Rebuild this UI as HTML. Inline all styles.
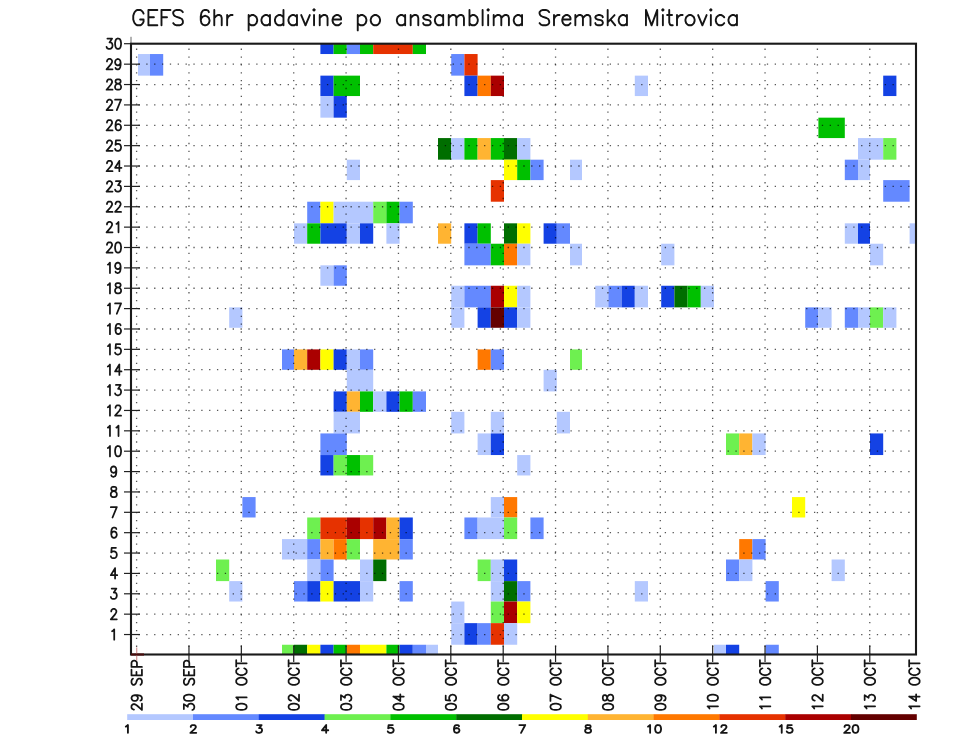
<!DOCTYPE html>
<html><head><meta charset="utf-8"><title>GEFS 6hr padavine po ansamblima Sremska Mitrovica</title>
<style>
html,body{margin:0;padding:0;background:#fff;width:960px;height:742px;overflow:hidden;font-family:"Liberation Sans",sans-serif;}
svg{display:block;will-change:transform;}
#w{width:960px;height:742px;}
</style></head><body><div id="w">
<svg width="960" height="742" viewBox="0 0 960 742"><rect x="0" y="0" width="960" height="742" fill="#fff"/><rect x="320.4" y="43.7" width="13.2" height="10.33" fill="#1442e4"/><rect x="333.6" y="43.7" width="13.2" height="10.33" fill="#00c000"/><rect x="346.8" y="43.7" width="13.2" height="10.33" fill="#6489ff"/><rect x="360" y="43.7" width="13.2" height="10.33" fill="#00c000"/><rect x="373.2" y="43.7" width="39.6" height="10.33" fill="#e63200"/><rect x="412.8" y="43.7" width="13.2" height="10.33" fill="#00c000"/><rect x="138" y="54.03" width="12" height="21.61" fill="#b4c8ff"/><rect x="150" y="54.03" width="13.2" height="21.61" fill="#6489ff"/><rect x="451.2" y="54.03" width="13.2" height="21.61" fill="#6489ff"/><rect x="464.4" y="54.03" width="13.2" height="21.61" fill="#e63200"/><rect x="320.4" y="75.64" width="13.2" height="20.41" fill="#1442e4"/><rect x="333.6" y="75.64" width="26.4" height="20.41" fill="#00c000"/><rect x="464.4" y="75.64" width="13.2" height="20.41" fill="#1442e4"/><rect x="477.6" y="75.64" width="13.2" height="20.41" fill="#ff7800"/><rect x="490.8" y="75.64" width="13.2" height="20.41" fill="#aa0000"/><rect x="634.8" y="75.64" width="13.2" height="20.41" fill="#b4c8ff"/><rect x="883.2" y="75.64" width="13.2" height="20.41" fill="#1442e4"/><rect x="320.4" y="96.05" width="13.2" height="21.61" fill="#b4c8ff"/><rect x="333.6" y="96.05" width="13.2" height="21.61" fill="#1442e4"/><rect x="818.4" y="117.66" width="26.4" height="20.41" fill="#00c000"/><rect x="438" y="138.07" width="13.2" height="21.61" fill="#006e00"/><rect x="451.2" y="138.07" width="13.2" height="21.61" fill="#b4c8ff"/><rect x="464.4" y="138.07" width="13.2" height="21.61" fill="#00c000"/><rect x="477.6" y="138.07" width="13.2" height="21.61" fill="#ffb432"/><rect x="490.8" y="138.07" width="13.2" height="21.61" fill="#00c000"/><rect x="504" y="138.07" width="13.2" height="21.61" fill="#006e00"/><rect x="517.2" y="138.07" width="13.2" height="21.61" fill="#b4c8ff"/><rect x="858" y="138.07" width="25.2" height="21.61" fill="#b4c8ff"/><rect x="883.2" y="138.07" width="13.2" height="21.61" fill="#6ef050"/><rect x="346.8" y="159.69" width="13.2" height="20.41" fill="#b4c8ff"/><rect x="504" y="159.69" width="13.2" height="20.41" fill="#ffff00"/><rect x="517.2" y="159.69" width="13.2" height="20.41" fill="#00c000"/><rect x="530.4" y="159.69" width="13.2" height="20.41" fill="#6489ff"/><rect x="570" y="159.69" width="12" height="20.41" fill="#b4c8ff"/><rect x="844.8" y="159.69" width="13.2" height="20.41" fill="#6489ff"/><rect x="858" y="159.69" width="12" height="20.41" fill="#b4c8ff"/><rect x="490.8" y="180.1" width="13.2" height="21.61" fill="#e63200"/><rect x="883.2" y="180.1" width="26.4" height="21.61" fill="#6489ff"/><rect x="307.2" y="201.71" width="13.2" height="21.61" fill="#6489ff"/><rect x="320.4" y="201.71" width="13.2" height="21.61" fill="#ffff00"/><rect x="333.6" y="201.71" width="39.6" height="21.61" fill="#b4c8ff"/><rect x="373.2" y="201.71" width="13.2" height="21.61" fill="#6ef050"/><rect x="386.4" y="201.71" width="13.2" height="21.61" fill="#00c000"/><rect x="399.6" y="201.71" width="13.2" height="21.61" fill="#6489ff"/><rect x="294" y="223.32" width="13.2" height="20.41" fill="#b4c8ff"/><rect x="307.2" y="223.32" width="13.2" height="20.41" fill="#00c000"/><rect x="320.4" y="223.32" width="26.4" height="20.41" fill="#1442e4"/><rect x="346.8" y="223.32" width="13.2" height="20.41" fill="#b4c8ff"/><rect x="360" y="223.32" width="13.2" height="20.41" fill="#1442e4"/><rect x="386.4" y="223.32" width="13.2" height="20.41" fill="#b4c8ff"/><rect x="438" y="223.32" width="13.2" height="20.41" fill="#ffb432"/><rect x="464.4" y="223.32" width="13.2" height="20.41" fill="#1442e4"/><rect x="477.6" y="223.32" width="13.2" height="20.41" fill="#00c000"/><rect x="504" y="223.32" width="13.2" height="20.41" fill="#006e00"/><rect x="517.2" y="223.32" width="13.2" height="20.41" fill="#ffff00"/><rect x="543.6" y="223.32" width="13.2" height="20.41" fill="#1442e4"/><rect x="556.8" y="223.32" width="13.2" height="20.41" fill="#6489ff"/><rect x="844.8" y="223.32" width="13.2" height="20.41" fill="#b4c8ff"/><rect x="858" y="223.32" width="12" height="20.41" fill="#1442e4"/><rect x="909.6" y="223.32" width="6.4" height="20.41" fill="#b4c8ff"/><rect x="464.4" y="243.73" width="26.4" height="21.61" fill="#6489ff"/><rect x="490.8" y="243.73" width="13.2" height="21.61" fill="#00c000"/><rect x="504" y="243.73" width="13.2" height="21.61" fill="#ff7800"/><rect x="517.2" y="243.73" width="13.2" height="21.61" fill="#b4c8ff"/><rect x="570" y="243.73" width="12" height="21.61" fill="#b4c8ff"/><rect x="661.2" y="243.73" width="13.2" height="21.61" fill="#b4c8ff"/><rect x="870" y="243.73" width="13.2" height="21.61" fill="#b4c8ff"/><rect x="320.4" y="265.34" width="13.2" height="20.41" fill="#b4c8ff"/><rect x="333.6" y="265.34" width="13.2" height="20.41" fill="#6489ff"/><rect x="451.2" y="285.75" width="13.2" height="21.61" fill="#b4c8ff"/><rect x="464.4" y="285.75" width="26.4" height="21.61" fill="#6489ff"/><rect x="490.8" y="285.75" width="13.2" height="21.61" fill="#aa0000"/><rect x="504" y="285.75" width="13.2" height="21.61" fill="#ffff00"/><rect x="517.2" y="285.75" width="13.2" height="21.61" fill="#b4c8ff"/><rect x="595.2" y="285.75" width="13.2" height="21.61" fill="#b4c8ff"/><rect x="608.4" y="285.75" width="13.2" height="21.61" fill="#6489ff"/><rect x="621.6" y="285.75" width="13.2" height="21.61" fill="#1442e4"/><rect x="634.8" y="285.75" width="13.2" height="21.61" fill="#b4c8ff"/><rect x="661.2" y="285.75" width="13.2" height="21.61" fill="#1442e4"/><rect x="674.4" y="285.75" width="13.2" height="21.61" fill="#006e00"/><rect x="687.6" y="285.75" width="13.2" height="21.61" fill="#00c000"/><rect x="700.8" y="285.75" width="13.2" height="21.61" fill="#b4c8ff"/><rect x="229.2" y="307.37" width="13.2" height="20.41" fill="#b4c8ff"/><rect x="451.2" y="307.37" width="13.2" height="20.41" fill="#b4c8ff"/><rect x="477.6" y="307.37" width="13.2" height="20.41" fill="#1442e4"/><rect x="490.8" y="307.37" width="13.2" height="20.41" fill="#640000"/><rect x="504" y="307.37" width="13.2" height="20.41" fill="#1442e4"/><rect x="517.2" y="307.37" width="13.2" height="20.41" fill="#b4c8ff"/><rect x="805.2" y="307.37" width="13.2" height="20.41" fill="#6489ff"/><rect x="818.4" y="307.37" width="13.2" height="20.41" fill="#b4c8ff"/><rect x="844.8" y="307.37" width="13.2" height="20.41" fill="#6489ff"/><rect x="858" y="307.37" width="12" height="20.41" fill="#b4c8ff"/><rect x="870" y="307.37" width="13.2" height="20.41" fill="#6ef050"/><rect x="883.2" y="307.37" width="13.2" height="20.41" fill="#b4c8ff"/><rect x="282" y="349.39" width="12" height="20.41" fill="#6489ff"/><rect x="294" y="349.39" width="13.2" height="20.41" fill="#ffb432"/><rect x="307.2" y="349.39" width="13.2" height="20.41" fill="#aa0000"/><rect x="320.4" y="349.39" width="13.2" height="20.41" fill="#ffff00"/><rect x="333.6" y="349.39" width="13.2" height="20.41" fill="#1442e4"/><rect x="346.8" y="349.39" width="13.2" height="20.41" fill="#b4c8ff"/><rect x="360" y="349.39" width="13.2" height="20.41" fill="#6489ff"/><rect x="477.6" y="349.39" width="13.2" height="20.41" fill="#ff7800"/><rect x="490.8" y="349.39" width="13.2" height="20.41" fill="#6489ff"/><rect x="570" y="349.39" width="12" height="20.41" fill="#6ef050"/><rect x="346.8" y="369.8" width="26.4" height="21.61" fill="#b4c8ff"/><rect x="543.6" y="369.8" width="13.2" height="21.61" fill="#b4c8ff"/><rect x="333.6" y="391.41" width="13.2" height="20.41" fill="#1442e4"/><rect x="346.8" y="391.41" width="13.2" height="20.41" fill="#ffb432"/><rect x="360" y="391.41" width="13.2" height="20.41" fill="#00c000"/><rect x="373.2" y="391.41" width="13.2" height="20.41" fill="#b4c8ff"/><rect x="386.4" y="391.41" width="13.2" height="20.41" fill="#1442e4"/><rect x="399.6" y="391.41" width="13.2" height="20.41" fill="#00c000"/><rect x="412.8" y="391.41" width="13.2" height="20.41" fill="#6489ff"/><rect x="333.6" y="411.82" width="26.4" height="21.61" fill="#b4c8ff"/><rect x="451.2" y="411.82" width="13.2" height="21.61" fill="#b4c8ff"/><rect x="490.8" y="411.82" width="13.2" height="21.61" fill="#b4c8ff"/><rect x="556.8" y="411.82" width="13.2" height="21.61" fill="#b4c8ff"/><rect x="320.4" y="433.43" width="26.4" height="21.61" fill="#6489ff"/><rect x="477.6" y="433.43" width="13.2" height="21.61" fill="#b4c8ff"/><rect x="490.8" y="433.43" width="13.2" height="21.61" fill="#1442e4"/><rect x="726" y="433.43" width="13.2" height="21.61" fill="#6ef050"/><rect x="739.2" y="433.43" width="13.2" height="21.61" fill="#ffb432"/><rect x="752.4" y="433.43" width="13.2" height="21.61" fill="#b4c8ff"/><rect x="870" y="433.43" width="13.2" height="21.61" fill="#1442e4"/><rect x="320.4" y="455.05" width="13.2" height="20.41" fill="#1442e4"/><rect x="333.6" y="455.05" width="13.2" height="20.41" fill="#6ef050"/><rect x="346.8" y="455.05" width="13.2" height="20.41" fill="#00c000"/><rect x="360" y="455.05" width="13.2" height="20.41" fill="#6ef050"/><rect x="517.2" y="455.05" width="13.2" height="20.41" fill="#b4c8ff"/><rect x="242.4" y="497.07" width="13.2" height="20.41" fill="#6489ff"/><rect x="490.8" y="497.07" width="13.2" height="20.41" fill="#b4c8ff"/><rect x="504" y="497.07" width="13.2" height="20.41" fill="#ff7800"/><rect x="792" y="497.07" width="13.2" height="20.41" fill="#ffff00"/><rect x="307.2" y="517.48" width="13.2" height="21.61" fill="#6ef050"/><rect x="320.4" y="517.48" width="26.4" height="21.61" fill="#e63200"/><rect x="346.8" y="517.48" width="13.2" height="21.61" fill="#aa0000"/><rect x="360" y="517.48" width="13.2" height="21.61" fill="#e63200"/><rect x="373.2" y="517.48" width="13.2" height="21.61" fill="#aa0000"/><rect x="386.4" y="517.48" width="13.2" height="21.61" fill="#ffb432"/><rect x="399.6" y="517.48" width="13.2" height="21.61" fill="#1442e4"/><rect x="464.4" y="517.48" width="13.2" height="21.61" fill="#6489ff"/><rect x="477.6" y="517.48" width="26.4" height="21.61" fill="#b4c8ff"/><rect x="504" y="517.48" width="13.2" height="21.61" fill="#6ef050"/><rect x="530.4" y="517.48" width="13.2" height="21.61" fill="#6489ff"/><rect x="282" y="539.09" width="25.2" height="20.41" fill="#b4c8ff"/><rect x="307.2" y="539.09" width="13.2" height="20.41" fill="#6489ff"/><rect x="320.4" y="539.09" width="13.2" height="20.41" fill="#ffb432"/><rect x="333.6" y="539.09" width="13.2" height="20.41" fill="#ff7800"/><rect x="346.8" y="539.09" width="13.2" height="20.41" fill="#6ef050"/><rect x="373.2" y="539.09" width="26.4" height="20.41" fill="#ffb432"/><rect x="399.6" y="539.09" width="13.2" height="20.41" fill="#6489ff"/><rect x="739.2" y="539.09" width="13.2" height="20.41" fill="#ff7800"/><rect x="752.4" y="539.09" width="13.2" height="20.41" fill="#6489ff"/><rect x="216" y="559.5" width="13.2" height="21.61" fill="#6ef050"/><rect x="307.2" y="559.5" width="13.2" height="21.61" fill="#b4c8ff"/><rect x="320.4" y="559.5" width="13.2" height="21.61" fill="#6489ff"/><rect x="360" y="559.5" width="13.2" height="21.61" fill="#b4c8ff"/><rect x="373.2" y="559.5" width="13.2" height="21.61" fill="#006e00"/><rect x="477.6" y="559.5" width="13.2" height="21.61" fill="#6ef050"/><rect x="490.8" y="559.5" width="13.2" height="21.61" fill="#b4c8ff"/><rect x="504" y="559.5" width="13.2" height="21.61" fill="#1442e4"/><rect x="726" y="559.5" width="13.2" height="21.61" fill="#6489ff"/><rect x="739.2" y="559.5" width="13.2" height="21.61" fill="#b4c8ff"/><rect x="831.6" y="559.5" width="13.2" height="21.61" fill="#b4c8ff"/><rect x="229.2" y="581.11" width="13.2" height="20.41" fill="#b4c8ff"/><rect x="294" y="581.11" width="13.2" height="20.41" fill="#6489ff"/><rect x="307.2" y="581.11" width="13.2" height="20.41" fill="#1442e4"/><rect x="320.4" y="581.11" width="13.2" height="20.41" fill="#ffff00"/><rect x="333.6" y="581.11" width="26.4" height="20.41" fill="#1442e4"/><rect x="360" y="581.11" width="13.2" height="20.41" fill="#b4c8ff"/><rect x="399.6" y="581.11" width="13.2" height="20.41" fill="#6489ff"/><rect x="490.8" y="581.11" width="13.2" height="20.41" fill="#b4c8ff"/><rect x="504" y="581.11" width="13.2" height="20.41" fill="#006e00"/><rect x="517.2" y="581.11" width="13.2" height="20.41" fill="#6489ff"/><rect x="634.8" y="581.11" width="13.2" height="20.41" fill="#b4c8ff"/><rect x="765.6" y="581.11" width="13.2" height="20.41" fill="#6489ff"/><rect x="451.2" y="601.53" width="13.2" height="21.61" fill="#b4c8ff"/><rect x="490.8" y="601.53" width="13.2" height="21.61" fill="#6ef050"/><rect x="504" y="601.53" width="13.2" height="21.61" fill="#aa0000"/><rect x="517.2" y="601.53" width="13.2" height="21.61" fill="#ffff00"/><rect x="451.2" y="623.14" width="13.2" height="21.61" fill="#b4c8ff"/><rect x="464.4" y="623.14" width="13.2" height="21.61" fill="#1442e4"/><rect x="477.6" y="623.14" width="13.2" height="21.61" fill="#6489ff"/><rect x="490.8" y="623.14" width="13.2" height="21.61" fill="#e63200"/><rect x="504" y="623.14" width="13.2" height="21.61" fill="#b4c8ff"/><rect x="282" y="644.75" width="12" height="9.75" fill="#6ef050"/><rect x="294" y="644.75" width="13.2" height="9.75" fill="#006e00"/><rect x="307.2" y="644.75" width="13.2" height="9.75" fill="#ffff00"/><rect x="320.4" y="644.75" width="13.2" height="9.75" fill="#1442e4"/><rect x="333.6" y="644.75" width="13.2" height="9.75" fill="#00c000"/><rect x="346.8" y="644.75" width="13.2" height="9.75" fill="#ff7800"/><rect x="360" y="644.75" width="26.4" height="9.75" fill="#ffff00"/><rect x="386.4" y="644.75" width="13.2" height="9.75" fill="#00c000"/><rect x="399.6" y="644.75" width="13.2" height="9.75" fill="#1442e4"/><rect x="412.8" y="644.75" width="13.2" height="9.75" fill="#6489ff"/><rect x="426" y="644.75" width="12" height="9.75" fill="#b4c8ff"/><rect x="714" y="644.75" width="12" height="9.75" fill="#b4c8ff"/><rect x="726" y="644.75" width="13.2" height="9.75" fill="#1442e4"/><rect x="765.6" y="644.75" width="13.2" height="9.75" fill="#6489ff"/><g stroke="#000" stroke-opacity="0.66" stroke-width="1.3" stroke-dasharray="1.3 6.5555"><line x1="130.55" y1="634.53" x2="916" y2="634.53"/><line x1="130.55" y1="614.16" x2="916" y2="614.16"/><line x1="130.55" y1="593.79" x2="916" y2="593.79"/><line x1="130.55" y1="573.42" x2="916" y2="573.42"/><line x1="130.55" y1="553.05" x2="916" y2="553.05"/><line x1="130.55" y1="532.68" x2="916" y2="532.68"/><line x1="130.55" y1="512.31" x2="916" y2="512.31"/><line x1="130.55" y1="491.94" x2="916" y2="491.94"/><line x1="130.55" y1="471.57" x2="916" y2="471.57"/><line x1="130.55" y1="451.2" x2="916" y2="451.2"/><line x1="130.55" y1="430.83" x2="916" y2="430.83"/><line x1="130.55" y1="410.46" x2="916" y2="410.46"/><line x1="130.55" y1="390.09" x2="916" y2="390.09"/><line x1="130.55" y1="369.72" x2="916" y2="369.72"/><line x1="130.55" y1="349.35" x2="916" y2="349.35"/><line x1="130.55" y1="328.98" x2="916" y2="328.98"/><line x1="130.55" y1="308.61" x2="916" y2="308.61"/><line x1="130.55" y1="288.24" x2="916" y2="288.24"/><line x1="130.55" y1="267.87" x2="916" y2="267.87"/><line x1="130.55" y1="247.5" x2="916" y2="247.5"/><line x1="130.55" y1="227.13" x2="916" y2="227.13"/><line x1="130.55" y1="206.76" x2="916" y2="206.76"/><line x1="130.55" y1="186.39" x2="916" y2="186.39"/><line x1="130.55" y1="166.02" x2="916" y2="166.02"/><line x1="130.55" y1="145.65" x2="916" y2="145.65"/><line x1="130.55" y1="125.28" x2="916" y2="125.28"/><line x1="130.55" y1="104.91" x2="916" y2="104.91"/><line x1="130.55" y1="84.54" x2="916" y2="84.54"/><line x1="130.55" y1="64.17" x2="916" y2="64.17"/><line x1="136.6" y1="654.75" x2="136.6" y2="43.7"/><line x1="188.97" y1="654.75" x2="188.97" y2="43.7"/><line x1="241.34" y1="654.75" x2="241.34" y2="43.7"/><line x1="293.71" y1="654.75" x2="293.71" y2="43.7"/><line x1="346.08" y1="654.75" x2="346.08" y2="43.7"/><line x1="398.45" y1="654.75" x2="398.45" y2="43.7"/><line x1="450.82" y1="654.75" x2="450.82" y2="43.7"/><line x1="503.19" y1="654.75" x2="503.19" y2="43.7"/><line x1="555.56" y1="654.75" x2="555.56" y2="43.7"/><line x1="607.93" y1="654.75" x2="607.93" y2="43.7"/><line x1="660.3" y1="654.75" x2="660.3" y2="43.7"/><line x1="712.67" y1="654.75" x2="712.67" y2="43.7"/><line x1="765.04" y1="654.75" x2="765.04" y2="43.7"/><line x1="817.41" y1="654.75" x2="817.41" y2="43.7"/><line x1="869.78" y1="654.75" x2="869.78" y2="43.7"/></g><g stroke="#222" stroke-width="1.2"><line x1="124" y1="634.53" x2="140" y2="634.53"/><line x1="124" y1="614.16" x2="140" y2="614.16"/><line x1="124" y1="593.79" x2="140" y2="593.79"/><line x1="124" y1="573.42" x2="140" y2="573.42"/><line x1="124" y1="553.05" x2="140" y2="553.05"/><line x1="124" y1="532.68" x2="140" y2="532.68"/><line x1="124" y1="512.31" x2="140" y2="512.31"/><line x1="124" y1="491.94" x2="140" y2="491.94"/><line x1="124" y1="471.57" x2="140" y2="471.57"/><line x1="124" y1="451.2" x2="140" y2="451.2"/><line x1="124" y1="430.83" x2="140" y2="430.83"/><line x1="124" y1="410.46" x2="140" y2="410.46"/><line x1="124" y1="390.09" x2="140" y2="390.09"/><line x1="124" y1="369.72" x2="140" y2="369.72"/><line x1="124" y1="349.35" x2="140" y2="349.35"/><line x1="124" y1="328.98" x2="140" y2="328.98"/><line x1="124" y1="308.61" x2="140" y2="308.61"/><line x1="124" y1="288.24" x2="140" y2="288.24"/><line x1="124" y1="267.87" x2="140" y2="267.87"/><line x1="124" y1="247.5" x2="140" y2="247.5"/><line x1="124" y1="227.13" x2="140" y2="227.13"/><line x1="124" y1="206.76" x2="140" y2="206.76"/><line x1="124" y1="186.39" x2="140" y2="186.39"/><line x1="124" y1="166.02" x2="140" y2="166.02"/><line x1="124" y1="145.65" x2="140" y2="145.65"/><line x1="124" y1="125.28" x2="140" y2="125.28"/><line x1="124" y1="104.91" x2="140" y2="104.91"/><line x1="124" y1="84.54" x2="140" y2="84.54"/><line x1="124" y1="64.17" x2="140" y2="64.17"/><line x1="124" y1="43.7" x2="131" y2="43.7"/><line x1="188.97" y1="645.6" x2="188.97" y2="662" /><line x1="241.34" y1="645.6" x2="241.34" y2="662" /><line x1="293.71" y1="645.6" x2="293.71" y2="662" /><line x1="346.08" y1="645.6" x2="346.08" y2="662" /><line x1="398.45" y1="645.6" x2="398.45" y2="662" /><line x1="450.82" y1="645.6" x2="450.82" y2="662" /><line x1="503.19" y1="645.6" x2="503.19" y2="662" /><line x1="555.56" y1="645.6" x2="555.56" y2="662" /><line x1="607.93" y1="645.6" x2="607.93" y2="662" /><line x1="660.3" y1="645.6" x2="660.3" y2="662" /><line x1="712.67" y1="645.6" x2="712.67" y2="662" /><line x1="765.04" y1="645.6" x2="765.04" y2="662" /><line x1="817.41" y1="645.6" x2="817.41" y2="662" /><line x1="869.78" y1="645.6" x2="869.78" y2="662" /></g><line x1="131" y1="36.8" x2="131" y2="43" stroke="#666" stroke-width="1"/><rect x="131" y="43.7" width="785" height="610.8" fill="none" stroke="#1a1a1a" stroke-width="2.1"/><g fill="none" stroke="#151515" stroke-width="1.9" stroke-linecap="round" stroke-linejoin="round"><path d="M143.58 13.60L142.89 12.14 141.52 10.68 140.14 9.95 137.38 9.95 136.01 10.68 134.63 12.14 133.94 13.60 133.25 15.80 133.25 19.45 133.94 21.64 134.63 23.11 136.01 24.57 137.38 25.30 140.14 25.30 141.52 24.57 142.89 23.11 143.58 21.64 143.58 19.45M140.14 19.45L143.58 19.45M148.41 9.95L148.41 25.30M148.41 9.95L157.36 9.95M148.41 17.26L153.92 17.26M148.41 25.30L157.36 25.30M161.49 9.95L161.49 25.30M161.49 9.95L170.45 9.95M161.49 17.26L167.01 17.26M182.85 12.14L181.47 10.68 179.41 9.95 176.65 9.95 174.58 10.68 173.21 12.14 173.21 13.60 173.89 15.07 174.58 15.80 175.96 16.53 180.09 17.99 181.47 18.72 182.16 19.45 182.85 20.91 182.85 23.11 181.47 24.57 179.41 25.30 176.65 25.30 174.58 24.57 173.21 23.11"/><path d="M208.87 12.14L208.19 10.68 206.16 9.95 204.81 9.95 202.78 10.68 201.43 12.87 200.75 16.53 200.75 20.18 201.43 23.11 202.78 24.57 204.81 25.30 205.49 25.30 207.52 24.57 208.87 23.11 209.55 20.91 209.55 20.18 208.87 17.99 207.52 16.53 205.49 15.80 204.81 15.80 202.78 16.53 201.43 17.99 200.75 20.18M214.28 9.95L214.28 25.30M214.28 17.99L216.31 15.80 217.66 15.07 219.69 15.07 221.05 15.80 221.72 17.99 221.72 25.30M227.14 15.07L227.14 25.30M227.14 19.45L227.81 17.26 229.17 15.80 230.52 15.07 232.55 15.07"/><path d="M248.65 15.07L248.65 30.42M248.65 17.26L250.07 15.80 251.49 15.07 253.63 15.07 255.05 15.80 256.47 17.26 257.18 19.45 257.18 20.91 256.47 23.11 255.05 24.57 253.63 25.30 251.49 25.30 250.07 24.57 248.65 23.11M269.97 15.07L269.97 25.30M269.97 17.26L268.55 15.80 267.13 15.07 265.00 15.07 263.58 15.80 262.15 17.26 261.44 19.45 261.44 20.91 262.15 23.11 263.58 24.57 265.00 25.30 267.13 25.30 268.55 24.57 269.97 23.11M283.48 9.95L283.48 25.30M283.48 17.26L282.06 15.80 280.63 15.07 278.50 15.07 277.08 15.80 275.66 17.26 274.95 19.45 274.95 20.91 275.66 23.11 277.08 24.57 278.50 25.30 280.63 25.30 282.06 24.57 283.48 23.11M296.98 15.07L296.98 25.30M296.98 17.26L295.56 15.80 294.14 15.07 292.01 15.07 290.59 15.80 289.16 17.26 288.45 19.45 288.45 20.91 289.16 23.11 290.59 24.57 292.01 25.30 294.14 25.30 295.56 24.57 296.98 23.11M301.25 15.07L305.51 25.30M309.78 15.07L305.51 25.30M313.33 9.95L314.04 10.68 314.75 9.95 314.04 9.22 313.33 9.95M314.04 15.07L314.04 25.30M319.73 15.07L319.73 25.30M319.73 17.99L321.86 15.80 323.28 15.07 325.41 15.07 326.83 15.80 327.55 17.99 327.55 25.30M332.52 19.45L341.05 19.45 341.05 17.99 340.34 16.53 339.63 15.80 338.21 15.07 336.07 15.07 334.65 15.80 333.23 17.26 332.52 19.45 332.52 20.91 333.23 23.11 334.65 24.57 336.07 25.30 338.21 25.30 339.63 24.57 341.05 23.11"/><path d="M357.75 15.07L357.75 30.42M357.75 17.26L359.19 15.80 360.63 15.07 362.79 15.07 364.22 15.80 365.66 17.26 366.38 19.45 366.38 20.91 365.66 23.11 364.22 24.57 362.79 25.30 360.63 25.30 359.19 24.57 357.75 23.11M374.30 15.07L372.86 15.80 371.42 17.26 370.70 19.45 370.70 20.91 371.42 23.11 372.86 24.57 374.30 25.30 376.45 25.30 377.89 24.57 379.33 23.11 380.05 20.91 380.05 19.45 379.33 17.26 377.89 15.80 376.45 15.07 374.30 15.07"/><path d="M405.15 15.07L405.15 25.30M405.15 17.26L403.77 15.80 402.38 15.07 400.31 15.07 398.93 15.80 397.54 17.26 396.85 19.45 396.85 20.91 397.54 23.11 398.93 24.57 400.31 25.30 402.38 25.30 403.77 24.57 405.15 23.11M410.68 15.07L410.68 25.30M410.68 17.99L412.76 15.80 414.14 15.07 416.22 15.07 417.60 15.80 418.29 17.99 418.29 25.30M430.74 17.26L430.05 15.80 427.98 15.07 425.90 15.07 423.83 15.80 423.14 17.26 423.83 18.72 425.21 19.45 428.67 20.18 430.05 20.91 430.74 22.38 430.74 23.11 430.05 24.57 427.98 25.30 425.90 25.30 423.83 24.57 423.14 23.11M443.19 15.07L443.19 25.30M443.19 17.26L441.81 15.80 440.43 15.07 438.35 15.07 436.97 15.80 435.59 17.26 434.89 19.45 434.89 20.91 435.59 23.11 436.97 24.57 438.35 25.30 440.43 25.30 441.81 24.57 443.19 23.11M448.73 15.07L448.73 25.30M448.73 17.99L450.80 15.80 452.19 15.07 454.26 15.07 455.65 15.80 456.34 17.99 456.34 25.30M456.34 17.99L458.41 15.80 459.80 15.07 461.87 15.07 463.25 15.80 463.95 17.99 463.95 25.30M469.48 9.95L469.48 25.30M469.48 17.26L470.86 15.80 472.25 15.07 474.32 15.07 475.71 15.80 477.09 17.26 477.78 19.45 477.78 20.91 477.09 23.11 475.71 24.57 474.32 25.30 472.25 25.30 470.86 24.57 469.48 23.11M482.62 9.95L482.62 25.30M487.46 9.95L488.16 10.68 488.85 9.95 488.16 9.22 487.46 9.95M488.16 15.07L488.16 25.30M493.69 15.07L493.69 25.30M493.69 17.99L495.76 15.80 497.15 15.07 499.22 15.07 500.61 15.80 501.30 17.99 501.30 25.30M501.30 17.99L503.37 15.80 504.76 15.07 506.83 15.07 508.22 15.80 508.91 17.99 508.91 25.30M522.05 15.07L522.05 25.30M522.05 17.26L520.67 15.80 519.28 15.07 517.21 15.07 515.82 15.80 514.44 17.26 513.75 19.45 513.75 20.91 514.44 23.11 515.82 24.57 517.21 25.30 519.28 25.30 520.67 24.57 522.05 23.11"/><path d="M549.18 12.14L547.81 10.68 545.74 9.95 542.99 9.95 540.93 10.68 539.55 12.14 539.55 13.60 540.24 15.07 540.93 15.80 542.30 16.53 546.43 17.99 547.81 18.72 548.50 19.45 549.18 20.91 549.18 23.11 547.81 24.57 545.74 25.30 542.99 25.30 540.93 24.57 539.55 23.11M554.00 15.07L554.00 25.30M554.00 19.45L554.69 17.26 556.07 15.80 557.44 15.07 559.51 15.07M562.26 19.45L570.52 19.45 570.52 17.99 569.83 16.53 569.14 15.80 567.77 15.07 565.70 15.07 564.32 15.80 562.95 17.26 562.26 19.45 562.26 20.91 562.95 23.11 564.32 24.57 565.70 25.30 567.77 25.30 569.14 24.57 570.52 23.11M575.34 15.07L575.34 25.30M575.34 17.99L577.40 15.80 578.78 15.07 580.84 15.07 582.22 15.80 582.91 17.99 582.91 25.30M582.91 17.99L584.97 15.80 586.35 15.07 588.41 15.07 589.79 15.80 590.48 17.99 590.48 25.30M602.86 17.26L602.18 15.80 600.11 15.07 598.05 15.07 595.98 15.80 595.29 17.26 595.98 18.72 597.36 19.45 600.80 20.18 602.18 20.91 602.86 22.38 602.86 23.11 602.18 24.57 600.11 25.30 598.05 25.30 595.98 24.57 595.29 23.11M607.68 9.95L607.68 25.30M614.56 15.07L607.68 22.38M610.43 19.45L615.25 25.30M626.95 15.07L626.95 25.30M626.95 17.26L625.57 15.80 624.20 15.07 622.13 15.07 620.76 15.80 619.38 17.26 618.69 19.45 618.69 20.91 619.38 23.11 620.76 24.57 622.13 25.30 624.20 25.30 625.57 24.57 626.95 23.11"/><path d="M645.95 9.95L645.95 25.30M645.95 9.95L651.59 25.30M657.24 9.95L651.59 25.30M657.24 9.95L657.24 25.30M662.17 9.95L662.88 10.68 663.59 9.95 662.88 9.22 662.17 9.95M662.88 15.07L662.88 25.30M669.23 9.95L669.23 22.38 669.93 24.57 671.35 25.30 672.76 25.30M667.11 15.07L672.05 15.07M676.99 15.07L676.99 25.30M676.99 19.45L677.69 17.26 679.11 15.80 680.52 15.07 682.63 15.07M688.98 15.07L687.57 15.80 686.16 17.26 685.45 19.45 685.45 20.91 686.16 23.11 687.57 24.57 688.98 25.30 691.10 25.30 692.51 24.57 693.92 23.11 694.62 20.91 694.62 19.45 693.92 17.26 692.51 15.80 691.10 15.07 688.98 15.07M698.15 15.07L702.38 25.30M706.62 15.07L702.38 25.30M710.14 9.95L710.85 10.68 711.55 9.95 710.85 9.22 710.14 9.95M710.85 15.07L710.85 25.30M724.25 17.26L722.84 15.80 721.43 15.07 719.31 15.07 717.90 15.80 716.49 17.26 715.79 19.45 715.79 20.91 716.49 23.11 717.90 24.57 719.31 25.30 721.43 25.30 722.84 24.57 724.25 23.11M736.95 15.07L736.95 25.30M736.95 17.26L735.54 15.80 734.13 15.07 732.01 15.07 730.60 15.80 729.19 17.26 728.48 19.45 728.48 20.91 729.19 23.11 730.60 24.57 732.01 25.30 734.13 25.30 735.54 24.57 736.95 23.11"/></g><g fill="none" stroke="#151515" stroke-width="1.75" stroke-linecap="round" stroke-linejoin="round"><path d="M112.09 631.33L112.95 630.83 114.23 629.35 114.23 639.71"/><path d="M111.24 611.45L111.24 610.96 111.67 609.97 112.09 609.48 112.95 608.98 114.65 608.98 115.51 609.48 115.94 609.97 116.36 610.96 116.36 611.94 115.94 612.93 115.08 614.41 110.81 619.34 116.79 619.34"/><path d="M111.67 588.61L116.36 588.61 113.80 592.56 115.08 592.56 115.94 593.05 116.36 593.54 116.79 595.02 116.79 596.01 116.36 597.49 115.51 598.47 114.23 598.97 112.95 598.97 111.67 598.47 111.24 597.98 110.81 596.99"/><path d="M115.08 568.24L110.81 575.15 117.22 575.15M115.08 568.24L115.08 578.60"/><path d="M115.94 547.87L111.67 547.87 111.24 552.31 111.67 551.82 112.95 551.32 114.23 551.32 115.51 551.82 116.36 552.80 116.79 554.28 116.79 555.27 116.36 556.75 115.51 557.73 114.23 558.23 112.95 558.23 111.67 557.73 111.24 557.24 110.81 556.25"/><path d="M116.36 528.98L115.94 528.00 114.65 527.50 113.80 527.50 112.52 528.00 111.67 529.48 111.24 531.94 111.24 534.41 111.67 536.38 112.52 537.36 113.80 537.86 114.23 537.86 115.51 537.36 116.36 536.38 116.79 534.90 116.79 534.41 116.36 532.93 115.51 531.94 114.23 531.45 113.80 531.45 112.52 531.94 111.67 532.93 111.24 534.41"/><path d="M116.79 507.13L112.52 517.49M110.81 507.13L116.79 507.13"/><path d="M112.95 486.76L111.67 487.26 111.24 488.24 111.24 489.23 111.67 490.21 112.52 490.71 114.23 491.20 115.51 491.69 116.36 492.68 116.79 493.67 116.79 495.14 116.36 496.13 115.94 496.62 114.65 497.12 112.95 497.12 111.67 496.62 111.24 496.13 110.81 495.14 110.81 493.67 111.24 492.68 112.09 491.69 113.37 491.20 115.08 490.71 115.94 490.21 116.36 489.23 116.36 488.24 115.94 487.26 114.65 486.76 112.95 486.76"/><path d="M116.36 469.84L115.94 471.32 115.08 472.31 113.80 472.80 113.37 472.80 112.09 472.31 111.24 471.32 110.81 469.84 110.81 469.35 111.24 467.87 112.09 466.89 113.37 466.39 113.80 466.39 115.08 466.89 115.94 467.87 116.36 469.84 116.36 472.31 115.94 474.77 115.08 476.25 113.80 476.75 112.95 476.75 111.67 476.25 111.24 475.27"/><path d="M107.82 448.00L108.68 447.50 109.96 446.02 109.96 456.38M117.64 446.02L116.36 446.52 115.51 448.00 115.08 450.46 115.08 451.94 115.51 454.40 116.36 455.88 117.64 456.38 118.50 456.38 119.78 455.88 120.63 454.40 121.06 451.94 121.06 450.46 120.63 448.00 119.78 446.52 118.50 446.02 117.64 446.02"/><path d="M107.82 427.63L108.68 427.13 109.96 425.65 109.96 436.01M116.36 427.63L117.22 427.13 118.50 425.65 118.50 436.01"/><path d="M107.82 407.26L108.68 406.76 109.96 405.28 109.96 415.64M115.51 407.75L115.51 407.26 115.93 406.27 116.36 405.78 117.22 405.28 118.92 405.28 119.78 405.78 120.20 406.27 120.63 407.26 120.63 408.24 120.20 409.23 119.35 410.71 115.08 415.64 121.06 415.64"/><path d="M107.82 386.89L108.68 386.39 109.96 384.91 109.96 395.27M115.93 384.91L120.63 384.91 118.07 388.86 119.35 388.86 120.20 389.35 120.63 389.84 121.06 391.32 121.06 392.31 120.63 393.79 119.78 394.77 118.50 395.27 117.22 395.27 115.93 394.77 115.51 394.28 115.08 393.29"/><path d="M107.82 366.52L108.68 366.02 109.96 364.54 109.96 374.90M119.35 364.54L115.08 371.45 121.49 371.45M119.35 364.54L119.35 374.90"/><path d="M107.82 346.15L108.68 345.65 109.96 344.17 109.96 354.53M120.20 344.17L115.93 344.17 115.51 348.61 115.93 348.12 117.22 347.62 118.50 347.62 119.78 348.12 120.63 349.10 121.06 350.58 121.06 351.57 120.63 353.05 119.78 354.03 118.50 354.53 117.22 354.53 115.93 354.03 115.51 353.54 115.08 352.55"/><path d="M107.82 325.78L108.68 325.28 109.96 323.80 109.96 334.16M120.63 325.28L120.20 324.30 118.92 323.80 118.07 323.80 116.79 324.30 115.93 325.78 115.51 328.24 115.51 330.71 115.93 332.68 116.79 333.66 118.07 334.16 118.50 334.16 119.78 333.66 120.63 332.68 121.06 331.20 121.06 330.71 120.63 329.23 119.78 328.24 118.50 327.75 118.07 327.75 116.79 328.24 115.93 329.23 115.51 330.71"/><path d="M107.82 305.41L108.68 304.91 109.96 303.43 109.96 313.79M121.06 303.43L116.79 313.79M115.08 303.43L121.06 303.43"/><path d="M107.82 285.04L108.68 284.54 109.96 283.06 109.96 293.42M117.22 283.06L115.93 283.56 115.51 284.54 115.51 285.53 115.93 286.51 116.79 287.01 118.50 287.50 119.78 287.99 120.63 288.98 121.06 289.97 121.06 291.44 120.63 292.43 120.20 292.92 118.92 293.42 117.22 293.42 115.93 292.92 115.51 292.43 115.08 291.44 115.08 289.97 115.51 288.98 116.36 287.99 117.64 287.50 119.35 287.01 120.20 286.51 120.63 285.53 120.63 284.54 120.20 283.56 118.92 283.06 117.22 283.06"/><path d="M107.82 264.67L108.68 264.17 109.96 262.69 109.96 273.05M120.63 266.14L120.20 267.62 119.35 268.61 118.07 269.10 117.64 269.10 116.36 268.61 115.51 267.62 115.08 266.14 115.08 265.65 115.51 264.17 116.36 263.19 117.64 262.69 118.07 262.69 119.35 263.19 120.20 264.17 120.63 266.14 120.63 268.61 120.20 271.07 119.35 272.55 118.07 273.05 117.22 273.05 115.93 272.55 115.51 271.57"/><path d="M106.97 244.79L106.97 244.30 107.39 243.31 107.82 242.82 108.68 242.32 110.38 242.32 111.24 242.82 111.66 243.31 112.09 244.30 112.09 245.28 111.66 246.27 110.81 247.75 106.54 252.68 112.52 252.68M117.64 242.32L116.36 242.82 115.51 244.30 115.08 246.76 115.08 248.24 115.51 250.70 116.36 252.18 117.64 252.68 118.50 252.68 119.78 252.18 120.63 250.70 121.06 248.24 121.06 246.76 120.63 244.30 119.78 242.82 118.50 242.32 117.64 242.32"/><path d="M106.97 224.42L106.97 223.93 107.39 222.94 107.82 222.45 108.68 221.95 110.38 221.95 111.24 222.45 111.66 222.94 112.09 223.93 112.09 224.91 111.66 225.90 110.81 227.38 106.54 232.31 112.52 232.31M116.36 223.93L117.22 223.43 118.50 221.95 118.50 232.31"/><path d="M106.97 204.05L106.97 203.56 107.39 202.57 107.82 202.08 108.68 201.58 110.38 201.58 111.24 202.08 111.66 202.57 112.09 203.56 112.09 204.54 111.66 205.53 110.81 207.01 106.54 211.94 112.52 211.94M115.51 204.05L115.51 203.56 115.93 202.57 116.36 202.08 117.22 201.58 118.92 201.58 119.78 202.08 120.20 202.57 120.63 203.56 120.63 204.54 120.20 205.53 119.35 207.01 115.08 211.94 121.06 211.94"/><path d="M106.97 183.68L106.97 183.19 107.39 182.20 107.82 181.71 108.68 181.21 110.38 181.21 111.24 181.71 111.66 182.20 112.09 183.19 112.09 184.17 111.66 185.16 110.81 186.64 106.54 191.57 112.52 191.57M115.93 181.21L120.63 181.21 118.07 185.16 119.35 185.16 120.20 185.65 120.63 186.14 121.06 187.62 121.06 188.61 120.63 190.09 119.78 191.07 118.50 191.57 117.22 191.57 115.93 191.07 115.51 190.58 115.08 189.59"/><path d="M106.97 163.31L106.97 162.82 107.39 161.83 107.82 161.34 108.68 160.84 110.38 160.84 111.24 161.34 111.66 161.83 112.09 162.82 112.09 163.80 111.66 164.79 110.81 166.27 106.54 171.20 112.52 171.20M119.35 160.84L115.08 167.75 121.49 167.75M119.35 160.84L119.35 171.20"/><path d="M106.97 142.94L106.97 142.45 107.39 141.46 107.82 140.97 108.68 140.47 110.38 140.47 111.24 140.97 111.66 141.46 112.09 142.45 112.09 143.43 111.66 144.42 110.81 145.90 106.54 150.83 112.52 150.83M120.20 140.47L115.93 140.47 115.51 144.91 115.93 144.42 117.22 143.92 118.50 143.92 119.78 144.42 120.63 145.40 121.06 146.88 121.06 147.87 120.63 149.35 119.78 150.33 118.50 150.83 117.22 150.83 115.93 150.33 115.51 149.84 115.08 148.85"/><path d="M106.97 122.57L106.97 122.08 107.39 121.09 107.82 120.60 108.68 120.10 110.38 120.10 111.24 120.60 111.66 121.09 112.09 122.08 112.09 123.06 111.66 124.05 110.81 125.53 106.54 130.46 112.52 130.46M120.63 121.58L120.20 120.60 118.92 120.10 118.07 120.10 116.79 120.60 115.93 122.08 115.51 124.54 115.51 127.01 115.93 128.98 116.79 129.96 118.07 130.46 118.50 130.46 119.78 129.96 120.63 128.98 121.06 127.50 121.06 127.01 120.63 125.53 119.78 124.54 118.50 124.05 118.07 124.05 116.79 124.54 115.93 125.53 115.51 127.01"/><path d="M106.97 102.20L106.97 101.71 107.39 100.72 107.82 100.23 108.68 99.73 110.38 99.73 111.24 100.23 111.66 100.72 112.09 101.71 112.09 102.69 111.66 103.68 110.81 105.16 106.54 110.09 112.52 110.09M121.06 99.73L116.79 110.09M115.08 99.73L121.06 99.73"/><path d="M106.97 81.83L106.97 81.34 107.39 80.35 107.82 79.86 108.68 79.36 110.38 79.36 111.24 79.86 111.66 80.35 112.09 81.34 112.09 82.32 111.66 83.31 110.81 84.79 106.54 89.72 112.52 89.72M117.22 79.36L115.93 79.86 115.51 80.84 115.51 81.83 115.93 82.81 116.79 83.31 118.50 83.80 119.78 84.29 120.63 85.28 121.06 86.27 121.06 87.74 120.63 88.73 120.20 89.22 118.92 89.72 117.22 89.72 115.93 89.22 115.51 88.73 115.08 87.74 115.08 86.27 115.51 85.28 116.36 84.29 117.64 83.80 119.35 83.31 120.20 82.81 120.63 81.83 120.63 80.84 120.20 79.86 118.92 79.36 117.22 79.36"/><path d="M106.97 61.46L106.97 60.97 107.39 59.98 107.82 59.49 108.68 58.99 110.38 58.99 111.24 59.49 111.66 59.98 112.09 60.97 112.09 61.95 111.66 62.94 110.81 64.42 106.54 69.35 112.52 69.35M120.63 62.44L120.20 63.92 119.35 64.91 118.07 65.40 117.64 65.40 116.36 64.91 115.51 63.92 115.08 62.44 115.08 61.95 115.51 60.47 116.36 59.49 117.64 58.99 118.07 58.99 119.35 59.49 120.20 60.47 120.63 62.44 120.63 64.91 120.20 67.37 119.35 68.85 118.07 69.35 117.22 69.35 115.93 68.85 115.51 67.87"/><path d="M107.39 38.52L112.09 38.52 109.53 42.47 110.81 42.47 111.66 42.96 112.09 43.45 112.52 44.93 112.52 45.92 112.09 47.40 111.24 48.38 109.96 48.88 108.68 48.88 107.39 48.38 106.97 47.89 106.54 46.90M117.64 38.52L116.36 39.02 115.51 40.50 115.08 42.96 115.08 44.44 115.51 46.90 116.36 48.38 117.64 48.88 118.50 48.88 119.78 48.38 120.63 46.90 121.06 44.44 121.06 42.96 120.63 40.50 119.78 39.02 118.50 38.52 117.64 38.52"/></g><g fill="none" stroke="#151515" stroke-width="1.75" stroke-linecap="round" stroke-linejoin="round"><path transform="translate(136.7,711.3) rotate(-90)" d="M1.79 -2.73L1.79 -3.23 2.24 -4.22 2.69 -4.72 3.58 -5.22 5.38 -5.22 6.27 -4.72 6.72 -4.22 7.17 -3.23 7.17 -2.24 6.72 -1.24 5.82 0.25 1.34 5.22 7.62 5.22M16.13 -1.74L15.68 -0.25 14.78 0.75 13.44 1.24 12.99 1.24 11.65 0.75 10.75 -0.25 10.30 -1.74 10.30 -2.24 10.75 -3.73 11.65 -4.72 12.99 -5.22 13.44 -5.22 14.78 -4.72 15.68 -3.73 16.13 -1.74 16.13 0.75 15.68 3.23 14.78 4.72 13.44 5.22 12.54 5.22 11.20 4.72 10.75 3.73M32.70 -3.73L31.81 -4.72 30.46 -5.22 28.67 -5.22 27.33 -4.72 26.43 -3.73 26.43 -2.73 26.88 -1.74 27.33 -1.24 28.22 -0.75 30.91 0.25 31.81 0.75 32.26 1.24 32.70 2.24 32.70 3.73 31.81 4.72 30.46 5.22 28.67 5.22 27.33 4.72 26.43 3.73M35.84 -5.22L35.84 5.22M35.84 -5.22L41.66 -5.22M35.84 -0.25L39.42 -0.25M35.84 5.22L41.66 5.22M44.35 -5.22L44.35 5.22M44.35 -5.22L48.38 -5.22 49.73 -4.72 50.18 -4.22 50.62 -3.23 50.62 -1.74 50.18 -0.75 49.73 -0.25 48.38 0.25 44.35 0.25"/><path transform="translate(189.07,711.3) rotate(-90)" d="M2.24 -5.22L7.17 -5.22 4.48 -1.24 5.82 -1.24 6.72 -0.75 7.17 -0.25 7.62 1.24 7.62 2.24 7.17 3.73 6.27 4.72 4.93 5.22 3.58 5.22 2.24 4.72 1.79 4.22 1.34 3.23M12.99 -5.22L11.65 -4.72 10.75 -3.23 10.30 -0.75 10.30 0.75 10.75 3.23 11.65 4.72 12.99 5.22 13.89 5.22 15.23 4.72 16.13 3.23 16.58 0.75 16.58 -0.75 16.13 -3.23 15.23 -4.72 13.89 -5.22 12.99 -5.22M32.70 -3.73L31.81 -4.72 30.46 -5.22 28.67 -5.22 27.33 -4.72 26.43 -3.73 26.43 -2.73 26.88 -1.74 27.33 -1.24 28.22 -0.75 30.91 0.25 31.81 0.75 32.26 1.24 32.70 2.24 32.70 3.73 31.81 4.72 30.46 5.22 28.67 5.22 27.33 4.72 26.43 3.73M35.84 -5.22L35.84 5.22M35.84 -5.22L41.66 -5.22M35.84 -0.25L39.42 -0.25M35.84 5.22L41.66 5.22M44.35 -5.22L44.35 5.22M44.35 -5.22L48.38 -5.22 49.73 -4.72 50.18 -4.22 50.62 -3.23 50.62 -1.74 50.18 -0.75 49.73 -0.25 48.38 0.25 44.35 0.25"/><path transform="translate(241.44,711.3) rotate(-90)" d="M4.03 -5.22L2.69 -4.72 1.79 -3.23 1.34 -0.75 1.34 0.75 1.79 3.23 2.69 4.72 4.03 5.22 4.93 5.22 6.27 4.72 7.17 3.23 7.62 0.75 7.62 -0.75 7.17 -3.23 6.27 -4.72 4.93 -5.22 4.03 -5.22M11.65 -3.23L12.54 -3.73 13.89 -5.22 13.89 5.22M29.12 -5.22L28.22 -4.72 27.33 -3.73 26.88 -2.73 26.43 -1.24 26.43 1.24 26.88 2.73 27.33 3.73 28.22 4.72 29.12 5.22 30.91 5.22 31.81 4.72 32.70 3.73 33.15 2.73 33.60 1.24 33.60 -1.24 33.15 -2.73 32.70 -3.73 31.81 -4.72 30.91 -5.22 29.12 -5.22M43.01 -2.73L42.56 -3.73 41.66 -4.72 40.77 -5.22 38.98 -5.22 38.08 -4.72 37.18 -3.73 36.74 -2.73 36.29 -1.24 36.29 1.24 36.74 2.73 37.18 3.73 38.08 4.72 38.98 5.22 40.77 5.22 41.66 4.72 42.56 3.73 43.01 2.73M47.94 -5.22L47.94 5.22M44.80 -5.22L51.07 -5.22"/><path transform="translate(293.81,711.3) rotate(-90)" d="M4.03 -5.22L2.69 -4.72 1.79 -3.23 1.34 -0.75 1.34 0.75 1.79 3.23 2.69 4.72 4.03 5.22 4.93 5.22 6.27 4.72 7.17 3.23 7.62 0.75 7.62 -0.75 7.17 -3.23 6.27 -4.72 4.93 -5.22 4.03 -5.22M10.75 -2.73L10.75 -3.23 11.20 -4.22 11.65 -4.72 12.54 -5.22 14.34 -5.22 15.23 -4.72 15.68 -4.22 16.13 -3.23 16.13 -2.24 15.68 -1.24 14.78 0.25 10.30 5.22 16.58 5.22M29.12 -5.22L28.22 -4.72 27.33 -3.73 26.88 -2.73 26.43 -1.24 26.43 1.24 26.88 2.73 27.33 3.73 28.22 4.72 29.12 5.22 30.91 5.22 31.81 4.72 32.70 3.73 33.15 2.73 33.60 1.24 33.60 -1.24 33.15 -2.73 32.70 -3.73 31.81 -4.72 30.91 -5.22 29.12 -5.22M43.01 -2.73L42.56 -3.73 41.66 -4.72 40.77 -5.22 38.98 -5.22 38.08 -4.72 37.18 -3.73 36.74 -2.73 36.29 -1.24 36.29 1.24 36.74 2.73 37.18 3.73 38.08 4.72 38.98 5.22 40.77 5.22 41.66 4.72 42.56 3.73 43.01 2.73M47.94 -5.22L47.94 5.22M44.80 -5.22L51.07 -5.22"/><path transform="translate(346.18,711.3) rotate(-90)" d="M4.03 -5.22L2.69 -4.72 1.79 -3.23 1.34 -0.75 1.34 0.75 1.79 3.23 2.69 4.72 4.03 5.22 4.93 5.22 6.27 4.72 7.17 3.23 7.62 0.75 7.62 -0.75 7.17 -3.23 6.27 -4.72 4.93 -5.22 4.03 -5.22M11.20 -5.22L16.13 -5.22 13.44 -1.24 14.78 -1.24 15.68 -0.75 16.13 -0.25 16.58 1.24 16.58 2.24 16.13 3.73 15.23 4.72 13.89 5.22 12.54 5.22 11.20 4.72 10.75 4.22 10.30 3.23M29.12 -5.22L28.22 -4.72 27.33 -3.73 26.88 -2.73 26.43 -1.24 26.43 1.24 26.88 2.73 27.33 3.73 28.22 4.72 29.12 5.22 30.91 5.22 31.81 4.72 32.70 3.73 33.15 2.73 33.60 1.24 33.60 -1.24 33.15 -2.73 32.70 -3.73 31.81 -4.72 30.91 -5.22 29.12 -5.22M43.01 -2.73L42.56 -3.73 41.66 -4.72 40.77 -5.22 38.98 -5.22 38.08 -4.72 37.18 -3.73 36.74 -2.73 36.29 -1.24 36.29 1.24 36.74 2.73 37.18 3.73 38.08 4.72 38.98 5.22 40.77 5.22 41.66 4.72 42.56 3.73 43.01 2.73M47.94 -5.22L47.94 5.22M44.80 -5.22L51.07 -5.22"/><path transform="translate(398.55,711.3) rotate(-90)" d="M4.03 -5.22L2.69 -4.72 1.79 -3.23 1.34 -0.75 1.34 0.75 1.79 3.23 2.69 4.72 4.03 5.22 4.93 5.22 6.27 4.72 7.17 3.23 7.62 0.75 7.62 -0.75 7.17 -3.23 6.27 -4.72 4.93 -5.22 4.03 -5.22M14.78 -5.22L10.30 1.74 17.02 1.74M14.78 -5.22L14.78 5.22M29.12 -5.22L28.22 -4.72 27.33 -3.73 26.88 -2.73 26.43 -1.24 26.43 1.24 26.88 2.73 27.33 3.73 28.22 4.72 29.12 5.22 30.91 5.22 31.81 4.72 32.70 3.73 33.15 2.73 33.60 1.24 33.60 -1.24 33.15 -2.73 32.70 -3.73 31.81 -4.72 30.91 -5.22 29.12 -5.22M43.01 -2.73L42.56 -3.73 41.66 -4.72 40.77 -5.22 38.98 -5.22 38.08 -4.72 37.18 -3.73 36.74 -2.73 36.29 -1.24 36.29 1.24 36.74 2.73 37.18 3.73 38.08 4.72 38.98 5.22 40.77 5.22 41.66 4.72 42.56 3.73 43.01 2.73M47.94 -5.22L47.94 5.22M44.80 -5.22L51.07 -5.22"/><path transform="translate(450.92,711.3) rotate(-90)" d="M4.03 -5.22L2.69 -4.72 1.79 -3.23 1.34 -0.75 1.34 0.75 1.79 3.23 2.69 4.72 4.03 5.22 4.93 5.22 6.27 4.72 7.17 3.23 7.62 0.75 7.62 -0.75 7.17 -3.23 6.27 -4.72 4.93 -5.22 4.03 -5.22M15.68 -5.22L11.20 -5.22 10.75 -0.75 11.20 -1.24 12.54 -1.74 13.89 -1.74 15.23 -1.24 16.13 -0.25 16.58 1.24 16.58 2.24 16.13 3.73 15.23 4.72 13.89 5.22 12.54 5.22 11.20 4.72 10.75 4.22 10.30 3.23M29.12 -5.22L28.22 -4.72 27.33 -3.73 26.88 -2.73 26.43 -1.24 26.43 1.24 26.88 2.73 27.33 3.73 28.22 4.72 29.12 5.22 30.91 5.22 31.81 4.72 32.70 3.73 33.15 2.73 33.60 1.24 33.60 -1.24 33.15 -2.73 32.70 -3.73 31.81 -4.72 30.91 -5.22 29.12 -5.22M43.01 -2.73L42.56 -3.73 41.66 -4.72 40.77 -5.22 38.98 -5.22 38.08 -4.72 37.18 -3.73 36.74 -2.73 36.29 -1.24 36.29 1.24 36.74 2.73 37.18 3.73 38.08 4.72 38.98 5.22 40.77 5.22 41.66 4.72 42.56 3.73 43.01 2.73M47.94 -5.22L47.94 5.22M44.80 -5.22L51.07 -5.22"/><path transform="translate(503.29,711.3) rotate(-90)" d="M4.03 -5.22L2.69 -4.72 1.79 -3.23 1.34 -0.75 1.34 0.75 1.79 3.23 2.69 4.72 4.03 5.22 4.93 5.22 6.27 4.72 7.17 3.23 7.62 0.75 7.62 -0.75 7.17 -3.23 6.27 -4.72 4.93 -5.22 4.03 -5.22M16.13 -3.73L15.68 -4.72 14.34 -5.22 13.44 -5.22 12.10 -4.72 11.20 -3.23 10.75 -0.75 10.75 1.74 11.20 3.73 12.10 4.72 13.44 5.22 13.89 5.22 15.23 4.72 16.13 3.73 16.58 2.24 16.58 1.74 16.13 0.25 15.23 -0.75 13.89 -1.24 13.44 -1.24 12.10 -0.75 11.20 0.25 10.75 1.74M29.12 -5.22L28.22 -4.72 27.33 -3.73 26.88 -2.73 26.43 -1.24 26.43 1.24 26.88 2.73 27.33 3.73 28.22 4.72 29.12 5.22 30.91 5.22 31.81 4.72 32.70 3.73 33.15 2.73 33.60 1.24 33.60 -1.24 33.15 -2.73 32.70 -3.73 31.81 -4.72 30.91 -5.22 29.12 -5.22M43.01 -2.73L42.56 -3.73 41.66 -4.72 40.77 -5.22 38.98 -5.22 38.08 -4.72 37.18 -3.73 36.74 -2.73 36.29 -1.24 36.29 1.24 36.74 2.73 37.18 3.73 38.08 4.72 38.98 5.22 40.77 5.22 41.66 4.72 42.56 3.73 43.01 2.73M47.94 -5.22L47.94 5.22M44.80 -5.22L51.07 -5.22"/><path transform="translate(555.66,711.3) rotate(-90)" d="M4.03 -5.22L2.69 -4.72 1.79 -3.23 1.34 -0.75 1.34 0.75 1.79 3.23 2.69 4.72 4.03 5.22 4.93 5.22 6.27 4.72 7.17 3.23 7.62 0.75 7.62 -0.75 7.17 -3.23 6.27 -4.72 4.93 -5.22 4.03 -5.22M16.58 -5.22L12.10 5.22M10.30 -5.22L16.58 -5.22M29.12 -5.22L28.22 -4.72 27.33 -3.73 26.88 -2.73 26.43 -1.24 26.43 1.24 26.88 2.73 27.33 3.73 28.22 4.72 29.12 5.22 30.91 5.22 31.81 4.72 32.70 3.73 33.15 2.73 33.60 1.24 33.60 -1.24 33.15 -2.73 32.70 -3.73 31.81 -4.72 30.91 -5.22 29.12 -5.22M43.01 -2.73L42.56 -3.73 41.66 -4.72 40.77 -5.22 38.98 -5.22 38.08 -4.72 37.18 -3.73 36.74 -2.73 36.29 -1.24 36.29 1.24 36.74 2.73 37.18 3.73 38.08 4.72 38.98 5.22 40.77 5.22 41.66 4.72 42.56 3.73 43.01 2.73M47.94 -5.22L47.94 5.22M44.80 -5.22L51.07 -5.22"/><path transform="translate(608.03,711.3) rotate(-90)" d="M4.03 -5.22L2.69 -4.72 1.79 -3.23 1.34 -0.75 1.34 0.75 1.79 3.23 2.69 4.72 4.03 5.22 4.93 5.22 6.27 4.72 7.17 3.23 7.62 0.75 7.62 -0.75 7.17 -3.23 6.27 -4.72 4.93 -5.22 4.03 -5.22M12.54 -5.22L11.20 -4.72 10.75 -3.73 10.75 -2.73 11.20 -1.74 12.10 -1.24 13.89 -0.75 15.23 -0.25 16.13 0.75 16.58 1.74 16.58 3.23 16.13 4.22 15.68 4.72 14.34 5.22 12.54 5.22 11.20 4.72 10.75 4.22 10.30 3.23 10.30 1.74 10.75 0.75 11.65 -0.25 12.99 -0.75 14.78 -1.24 15.68 -1.74 16.13 -2.73 16.13 -3.73 15.68 -4.72 14.34 -5.22 12.54 -5.22M29.12 -5.22L28.22 -4.72 27.33 -3.73 26.88 -2.73 26.43 -1.24 26.43 1.24 26.88 2.73 27.33 3.73 28.22 4.72 29.12 5.22 30.91 5.22 31.81 4.72 32.70 3.73 33.15 2.73 33.60 1.24 33.60 -1.24 33.15 -2.73 32.70 -3.73 31.81 -4.72 30.91 -5.22 29.12 -5.22M43.01 -2.73L42.56 -3.73 41.66 -4.72 40.77 -5.22 38.98 -5.22 38.08 -4.72 37.18 -3.73 36.74 -2.73 36.29 -1.24 36.29 1.24 36.74 2.73 37.18 3.73 38.08 4.72 38.98 5.22 40.77 5.22 41.66 4.72 42.56 3.73 43.01 2.73M47.94 -5.22L47.94 5.22M44.80 -5.22L51.07 -5.22"/><path transform="translate(660.4,711.3) rotate(-90)" d="M4.03 -5.22L2.69 -4.72 1.79 -3.23 1.34 -0.75 1.34 0.75 1.79 3.23 2.69 4.72 4.03 5.22 4.93 5.22 6.27 4.72 7.17 3.23 7.62 0.75 7.62 -0.75 7.17 -3.23 6.27 -4.72 4.93 -5.22 4.03 -5.22M16.13 -1.74L15.68 -0.25 14.78 0.75 13.44 1.24 12.99 1.24 11.65 0.75 10.75 -0.25 10.30 -1.74 10.30 -2.24 10.75 -3.73 11.65 -4.72 12.99 -5.22 13.44 -5.22 14.78 -4.72 15.68 -3.73 16.13 -1.74 16.13 0.75 15.68 3.23 14.78 4.72 13.44 5.22 12.54 5.22 11.20 4.72 10.75 3.73M29.12 -5.22L28.22 -4.72 27.33 -3.73 26.88 -2.73 26.43 -1.24 26.43 1.24 26.88 2.73 27.33 3.73 28.22 4.72 29.12 5.22 30.91 5.22 31.81 4.72 32.70 3.73 33.15 2.73 33.60 1.24 33.60 -1.24 33.15 -2.73 32.70 -3.73 31.81 -4.72 30.91 -5.22 29.12 -5.22M43.01 -2.73L42.56 -3.73 41.66 -4.72 40.77 -5.22 38.98 -5.22 38.08 -4.72 37.18 -3.73 36.74 -2.73 36.29 -1.24 36.29 1.24 36.74 2.73 37.18 3.73 38.08 4.72 38.98 5.22 40.77 5.22 41.66 4.72 42.56 3.73 43.01 2.73M47.94 -5.22L47.94 5.22M44.80 -5.22L51.07 -5.22"/><path transform="translate(712.77,711.3) rotate(-90)" d="M2.69 -3.23L3.58 -3.73 4.93 -5.22 4.93 5.22M12.99 -5.22L11.65 -4.72 10.75 -3.23 10.30 -0.75 10.30 0.75 10.75 3.23 11.65 4.72 12.99 5.22 13.89 5.22 15.23 4.72 16.13 3.23 16.58 0.75 16.58 -0.75 16.13 -3.23 15.23 -4.72 13.89 -5.22 12.99 -5.22M29.12 -5.22L28.22 -4.72 27.33 -3.73 26.88 -2.73 26.43 -1.24 26.43 1.24 26.88 2.73 27.33 3.73 28.22 4.72 29.12 5.22 30.91 5.22 31.81 4.72 32.70 3.73 33.15 2.73 33.60 1.24 33.60 -1.24 33.15 -2.73 32.70 -3.73 31.81 -4.72 30.91 -5.22 29.12 -5.22M43.01 -2.73L42.56 -3.73 41.66 -4.72 40.77 -5.22 38.98 -5.22 38.08 -4.72 37.18 -3.73 36.74 -2.73 36.29 -1.24 36.29 1.24 36.74 2.73 37.18 3.73 38.08 4.72 38.98 5.22 40.77 5.22 41.66 4.72 42.56 3.73 43.01 2.73M47.94 -5.22L47.94 5.22M44.80 -5.22L51.07 -5.22"/><path transform="translate(765.14,711.3) rotate(-90)" d="M2.69 -3.23L3.58 -3.73 4.93 -5.22 4.93 5.22M11.65 -3.23L12.54 -3.73 13.89 -5.22 13.89 5.22M29.12 -5.22L28.22 -4.72 27.33 -3.73 26.88 -2.73 26.43 -1.24 26.43 1.24 26.88 2.73 27.33 3.73 28.22 4.72 29.12 5.22 30.91 5.22 31.81 4.72 32.70 3.73 33.15 2.73 33.60 1.24 33.60 -1.24 33.15 -2.73 32.70 -3.73 31.81 -4.72 30.91 -5.22 29.12 -5.22M43.01 -2.73L42.56 -3.73 41.66 -4.72 40.77 -5.22 38.98 -5.22 38.08 -4.72 37.18 -3.73 36.74 -2.73 36.29 -1.24 36.29 1.24 36.74 2.73 37.18 3.73 38.08 4.72 38.98 5.22 40.77 5.22 41.66 4.72 42.56 3.73 43.01 2.73M47.94 -5.22L47.94 5.22M44.80 -5.22L51.07 -5.22"/><path transform="translate(817.51,711.3) rotate(-90)" d="M2.69 -3.23L3.58 -3.73 4.93 -5.22 4.93 5.22M10.75 -2.73L10.75 -3.23 11.20 -4.22 11.65 -4.72 12.54 -5.22 14.34 -5.22 15.23 -4.72 15.68 -4.22 16.13 -3.23 16.13 -2.24 15.68 -1.24 14.78 0.25 10.30 5.22 16.58 5.22M29.12 -5.22L28.22 -4.72 27.33 -3.73 26.88 -2.73 26.43 -1.24 26.43 1.24 26.88 2.73 27.33 3.73 28.22 4.72 29.12 5.22 30.91 5.22 31.81 4.72 32.70 3.73 33.15 2.73 33.60 1.24 33.60 -1.24 33.15 -2.73 32.70 -3.73 31.81 -4.72 30.91 -5.22 29.12 -5.22M43.01 -2.73L42.56 -3.73 41.66 -4.72 40.77 -5.22 38.98 -5.22 38.08 -4.72 37.18 -3.73 36.74 -2.73 36.29 -1.24 36.29 1.24 36.74 2.73 37.18 3.73 38.08 4.72 38.98 5.22 40.77 5.22 41.66 4.72 42.56 3.73 43.01 2.73M47.94 -5.22L47.94 5.22M44.80 -5.22L51.07 -5.22"/><path transform="translate(869.88,711.3) rotate(-90)" d="M2.69 -3.23L3.58 -3.73 4.93 -5.22 4.93 5.22M11.20 -5.22L16.13 -5.22 13.44 -1.24 14.78 -1.24 15.68 -0.75 16.13 -0.25 16.58 1.24 16.58 2.24 16.13 3.73 15.23 4.72 13.89 5.22 12.54 5.22 11.20 4.72 10.75 4.22 10.30 3.23M29.12 -5.22L28.22 -4.72 27.33 -3.73 26.88 -2.73 26.43 -1.24 26.43 1.24 26.88 2.73 27.33 3.73 28.22 4.72 29.12 5.22 30.91 5.22 31.81 4.72 32.70 3.73 33.15 2.73 33.60 1.24 33.60 -1.24 33.15 -2.73 32.70 -3.73 31.81 -4.72 30.91 -5.22 29.12 -5.22M43.01 -2.73L42.56 -3.73 41.66 -4.72 40.77 -5.22 38.98 -5.22 38.08 -4.72 37.18 -3.73 36.74 -2.73 36.29 -1.24 36.29 1.24 36.74 2.73 37.18 3.73 38.08 4.72 38.98 5.22 40.77 5.22 41.66 4.72 42.56 3.73 43.01 2.73M47.94 -5.22L47.94 5.22M44.80 -5.22L51.07 -5.22"/><path transform="translate(914.4,711.3) rotate(-90)" d="M2.69 -3.23L3.58 -3.73 4.93 -5.22 4.93 5.22M14.78 -5.22L10.30 1.74 17.02 1.74M14.78 -5.22L14.78 5.22M29.12 -5.22L28.22 -4.72 27.33 -3.73 26.88 -2.73 26.43 -1.24 26.43 1.24 26.88 2.73 27.33 3.73 28.22 4.72 29.12 5.22 30.91 5.22 31.81 4.72 32.70 3.73 33.15 2.73 33.60 1.24 33.60 -1.24 33.15 -2.73 32.70 -3.73 31.81 -4.72 30.91 -5.22 29.12 -5.22M43.01 -2.73L42.56 -3.73 41.66 -4.72 40.77 -5.22 38.98 -5.22 38.08 -4.72 37.18 -3.73 36.74 -2.73 36.29 -1.24 36.29 1.24 36.74 2.73 37.18 3.73 38.08 4.72 38.98 5.22 40.77 5.22 41.66 4.72 42.56 3.73 43.01 2.73M47.94 -5.22L47.94 5.22M44.80 -5.22L51.07 -5.22"/></g><line x1="136.7" y1="647.5" x2="136.7" y2="660.5" stroke="#d49a9a" stroke-width="1.2"/><line x1="131" y1="654.5" x2="144" y2="654.5" stroke="#4a0c0c" stroke-width="2.1"/><rect x="127.2" y="714.2" width="66.1" height="5.8" fill="#b4c8ff"/><rect x="193" y="714.2" width="66.1" height="5.8" fill="#6489ff"/><rect x="258.8" y="714.2" width="66.1" height="5.8" fill="#1442e4"/><rect x="324.6" y="714.2" width="66.1" height="5.8" fill="#6ef050"/><rect x="390.4" y="714.2" width="66.1" height="5.8" fill="#00c000"/><rect x="456.2" y="714.2" width="66.1" height="5.8" fill="#006e00"/><rect x="522" y="714.2" width="66.1" height="5.8" fill="#ffff00"/><rect x="587.8" y="714.2" width="66.1" height="5.8" fill="#ffb432"/><rect x="653.6" y="714.2" width="66.1" height="5.8" fill="#ff7800"/><rect x="719.4" y="714.2" width="66.1" height="5.8" fill="#e63200"/><rect x="785.2" y="714.2" width="66.1" height="5.8" fill="#aa0000"/><rect x="851" y="714.2" width="65.8" height="5.8" fill="#640000"/><g fill="none" stroke="#151515" stroke-width="1.85" stroke-linecap="round" stroke-linejoin="round"><path d="M125.82 726.54L126.66 726.17 127.92 725.05 127.92 732.85"/><path d="M190.78 726.91L190.78 726.54 191.20 725.80 191.62 725.43 192.46 725.05 194.14 725.05 194.98 725.43 195.40 725.80 195.82 726.54 195.82 727.28 195.40 728.02 194.56 729.14 190.36 732.85 196.24 732.85"/><path d="M257.00 725.05L261.62 725.05 259.10 728.02 260.36 728.02 261.20 728.39 261.62 728.76 262.04 729.88 262.04 730.62 261.62 731.73 260.78 732.47 259.52 732.85 258.26 732.85 257.00 732.47 256.58 732.10 256.16 731.36"/><path d="M326.16 725.05L321.96 730.25 328.26 730.25M326.16 725.05L326.16 732.85"/><path d="M392.80 725.05L388.60 725.05 388.18 728.39 388.60 728.02 389.86 727.65 391.12 727.65 392.38 728.02 393.22 728.76 393.64 729.88 393.64 730.62 393.22 731.73 392.38 732.47 391.12 732.85 389.86 732.85 388.60 732.47 388.18 732.10 387.76 731.36"/><path d="M459.02 726.17L458.60 725.43 457.34 725.05 456.50 725.05 455.24 725.43 454.40 726.54 453.98 728.39 453.98 730.25 454.40 731.73 455.24 732.47 456.50 732.85 456.92 732.85 458.18 732.47 459.02 731.73 459.44 730.62 459.44 730.25 459.02 729.14 458.18 728.39 456.92 728.02 456.50 728.02 455.24 728.39 454.40 729.14 453.98 730.25"/><path d="M525.24 725.05L521.04 732.85M519.36 725.05L525.24 725.05"/><path d="M587.26 725.05L586.00 725.43 585.58 726.17 585.58 726.91 586.00 727.65 586.84 728.02 588.52 728.39 589.78 728.76 590.62 729.51 591.04 730.25 591.04 731.36 590.62 732.10 590.20 732.47 588.94 732.85 587.26 732.85 586.00 732.47 585.58 732.10 585.16 731.36 585.16 730.25 585.58 729.51 586.42 728.76 587.68 728.39 589.36 728.02 590.20 727.65 590.62 726.91 590.62 726.17 590.20 725.43 588.94 725.05 587.26 725.05"/><path d="M648.02 726.54L648.86 726.17 650.12 725.05 650.12 732.85M657.68 725.05L656.42 725.43 655.58 726.54 655.16 728.39 655.16 729.51 655.58 731.36 656.42 732.47 657.68 732.85 658.52 732.85 659.78 732.47 660.62 731.36 661.04 729.51 661.04 728.39 660.62 726.54 659.78 725.43 658.52 725.05 657.68 725.05"/><path d="M713.82 726.54L714.66 726.17 715.92 725.05 715.92 732.85M721.38 726.91L721.38 726.54 721.80 725.80 722.22 725.43 723.06 725.05 724.74 725.05 725.58 725.43 726.00 725.80 726.42 726.54 726.42 727.28 726.00 728.02 725.16 729.14 720.96 732.85 726.84 732.85"/><path d="M779.62 726.54L780.46 726.17 781.72 725.05 781.72 732.85M791.80 725.05L787.60 725.05 787.18 728.39 787.60 728.02 788.86 727.65 790.12 727.65 791.38 728.02 792.22 728.76 792.64 729.88 792.64 730.62 792.22 731.73 791.38 732.47 790.12 732.85 788.86 732.85 787.60 732.47 787.18 732.10 786.76 731.36"/><path d="M844.58 726.91L844.58 726.54 845.00 725.80 845.42 725.43 846.26 725.05 847.94 725.05 848.78 725.43 849.20 725.80 849.62 726.54 849.62 727.28 849.20 728.02 848.36 729.14 844.16 732.85 850.04 732.85M855.08 725.05L853.82 725.43 852.98 726.54 852.56 728.39 852.56 729.51 852.98 731.36 853.82 732.47 855.08 732.85 855.92 732.85 857.18 732.47 858.02 731.36 858.44 729.51 858.44 728.39 858.02 726.54 857.18 725.43 855.92 725.05 855.08 725.05"/></g></svg>
</div></body></html>
